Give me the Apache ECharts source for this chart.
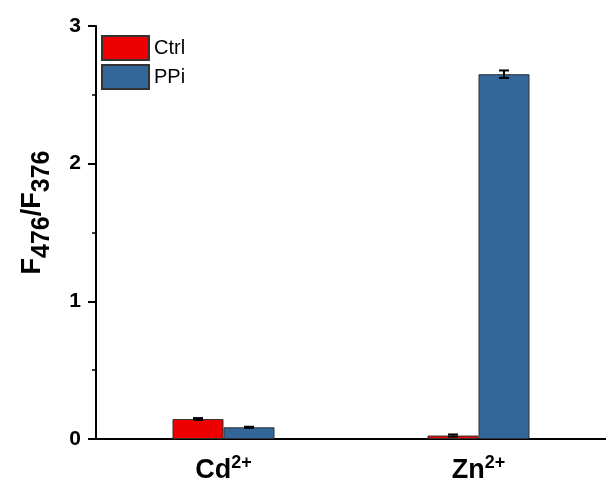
<!DOCTYPE html>
<html>
<head>
<meta charset="utf-8">
<script src="https://cdn.jsdelivr.net/npm/echarts@6/dist/echarts.min.js"></script>
<style>
  html, body { margin: 0; padding: 0; background: #fff; }
  #chart { width: 606px; height: 484px; }
</style>
</head>
<body>
<div id="chart"></div>
<script>
// data
const ions = ['Cd', 'Zn']
const ctrlValues = [0.145, 0.025]
const ctrlErrors = [0.007, 0.008]
const ppiValues = [0.085, 2.65]
const ppiErrors = [0.004, 0.027]

const BAR_W = 51
const FONT = 'Liberation Sans, Arial, sans-serif'

// error bar drawn through the axes, shifted to sit on its own bar
function errorSeries (values, errors, shift) {
  return {
    type: 'custom',
    z: 10,
    silent: true,
    data: values.map((v, i) => [i, v, errors[i]]),
    renderItem: function (params, api) {
      const i = api.value(0)
      const v = api.value(1)
      const e = api.value(2)
      const hi = api.coord([i, v + e])
      const lo = api.coord([i, v - e])
      const x = hi[0] + shift
      const cap = 5
      const style = { stroke: '#000', lineWidth: 2 }
      return {
        type: 'group',
        children: [
          { type: 'line', shape: { x1: x, y1: hi[1], x2: x, y2: lo[1] }, style: style },
          { type: 'line', shape: { x1: x - cap, y1: hi[1], x2: x + cap, y2: hi[1] }, style: style },
          { type: 'line', shape: { x1: x - cap, y1: lo[1], x2: x + cap, y2: lo[1] }, style: style }
        ]
      }
    }
  }
}

const myChart = echarts.init(document.getElementById('chart'))
const option = {
  animation: false,
  textStyle: { fontFamily: FONT },
  grid: { left: 96, right: 0, top: 26, bottom: 45, containLabel: false, outerBoundsMode: 'none' },
  legend: {
    orient: 'vertical',
    left: 101,
    top: 35,
    padding: 0,
    itemWidth: 47,
    itemHeight: 24,
    itemGap: 3,
    icon: 'rect',
    textStyle: { fontSize: 20, color: '#000', fontFamily: FONT },
    data: ['Ctrl', 'PPi']
  },
  xAxis: {
    type: 'category',
    data: ions,
    axisLine: { lineStyle: { color: '#000', width: 2 } },
    axisTick: { alignWithLabel: true, length: 7, lineStyle: { color: '#000', width: 2 } },
    axisLabel: {
      margin: 15,
      formatter: v => '{b|' + v + '}{sup|2+}',
      rich: {
        b: { fontSize: 27, fontWeight: 'bold', color: '#000', fontFamily: FONT, lineHeight: 30, verticalAlign: 'bottom' },
        sup: { fontSize: 18, fontWeight: 'bold', color: '#000', fontFamily: FONT, lineHeight: 18, verticalAlign: 'top' }
      }
    }
  },
  yAxis: {
    type: 'value',
    min: 0,
    max: 3,
    interval: 1,
    name: '{a|F}{s|476}{a|/F}{s|376}',
    nameLocation: 'middle',
    nameGap: 41,
    nameTextStyle: {
      padding: [0, 0, 0, 40],
      rich: {
        a: { fontSize: 27, fontWeight: 'bold', color: '#000', fontFamily: FONT, lineHeight: 28, verticalAlign: 'top' },
        s: { fontSize: 25, fontWeight: 'bold', color: '#000', fontFamily: FONT, lineHeight: 36, verticalAlign: 'bottom' }
      }
    },
    axisLine: { show: true, lineStyle: { color: '#000', width: 2 } },
    axisTick: { show: true, length: 8, lineStyle: { color: '#000', width: 2 } },
    minorTick: { show: true, splitNumber: 2, length: 4, lineStyle: { color: '#000', width: 1.5 } },
    splitLine: { show: false },
    axisLabel: { margin: 15, fontSize: 21, fontWeight: 'bold', color: '#000', fontFamily: FONT }
  },
  series: [
    {
      name: 'Ctrl',
      type: 'bar',
      data: ctrlValues,
      barWidth: BAR_W,
      barGap: '0%',
      itemStyle: { color: '#ee0000', borderColor: '#333', borderWidth: 1 }
    },
    {
      name: 'PPi',
      type: 'bar',
      data: ppiValues,
      barWidth: BAR_W,
      barGap: '0%',
      itemStyle: { color: '#336699', borderColor: '#333', borderWidth: 1 }
    },
    errorSeries(ctrlValues, ctrlErrors, -BAR_W / 2),
    errorSeries(ppiValues, ppiErrors, BAR_W / 2)
  ]
}
myChart.setOption(option)
</script>
</body>
</html>
